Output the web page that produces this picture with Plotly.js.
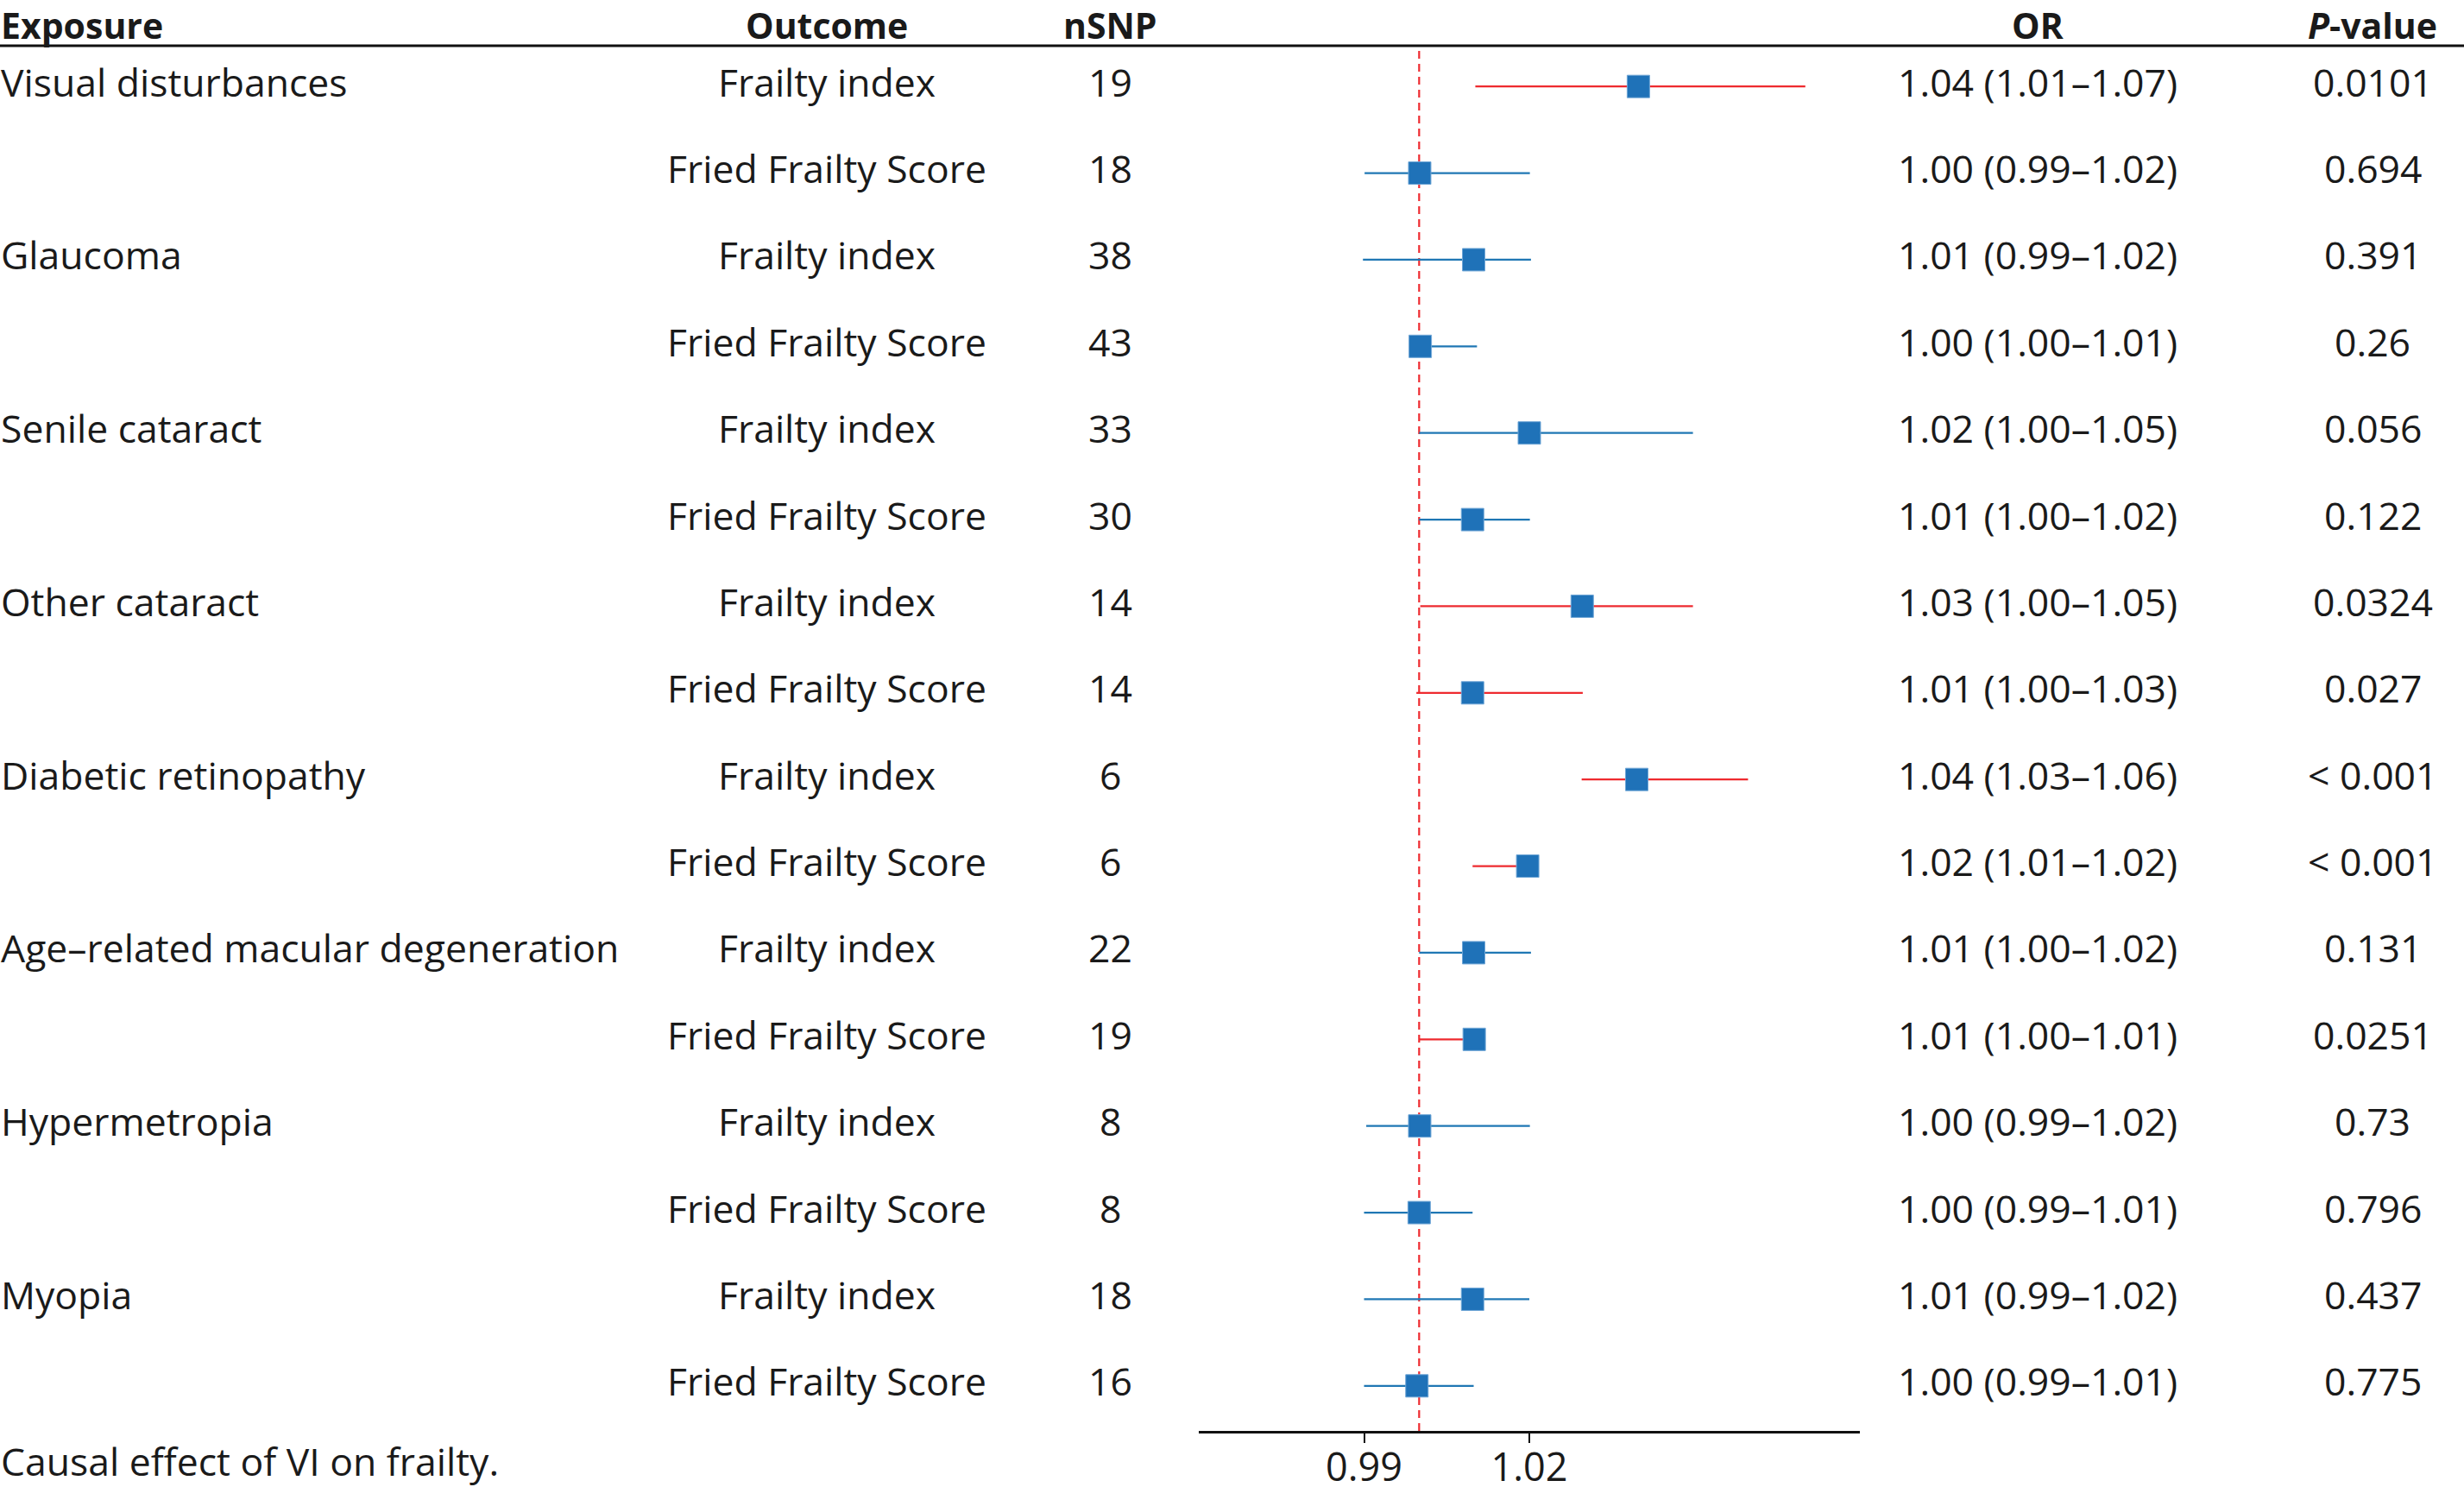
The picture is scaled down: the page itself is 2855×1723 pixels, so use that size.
<!DOCTYPE html>
<html>
<head>
<meta charset="utf-8">
<script src="https://cdn.plot.ly/plotly-3.0.1.min.js"></script>
<style>html,body{margin:0;padding:0;background:#fff;}</style>
</head>
<body>
<div id="chart" style="width:2855px;height:1723px;"></div>
<script>
// ---- data ----
const exposures = ["Visual disturbances", "", "Glaucoma", "", "Senile cataract", "", "Other cataract", "",
  "Diabetic retinopathy", "", "Age\u2013related macular degeneration", "", "Hypermetropia", "", "Myopia", ""];
const outcomes = ["Frailty index", "Fried Frailty Score", "Frailty index", "Fried Frailty Score",
  "Frailty index", "Fried Frailty Score", "Frailty index", "Fried Frailty Score",
  "Frailty index", "Fried Frailty Score", "Frailty index", "Fried Frailty Score",
  "Frailty index", "Fried Frailty Score", "Frailty index", "Fried Frailty Score"];
const nSNP = [19, 18, 38, 43, 33, 30, 14, 14, 6, 6, 22, 19, 8, 8, 18, 16];
const orValue = [1.0398, 1.0001, 1.0099, 1.0002, 1.0200, 1.0097, 1.0296, 1.0097,
  1.0395, 1.0197, 1.0099, 1.0100, 1.0001, 1.0000, 1.0097, 0.9996];
const ciLow = [1.0102, 0.9901, 0.9898, 0.9995, 1.0000, 1.0000, 1.0002, 0.9995,
  1.0295, 1.0097, 1.0000, 1.0000, 0.9904, 0.9900, 0.9900, 0.9900];
const ciHigh = [1.0701, 1.0201, 1.0203, 1.0105, 1.0497, 1.0201, 1.0497, 1.0297,
  1.0597, 1.0210, 1.0203, 1.0115, 1.0201, 1.0097, 1.0200, 1.0099];
const orText = ["1.04 (1.01\u20131.07)", "1.00 (0.99\u20131.02)", "1.01 (0.99\u20131.02)", "1.00 (1.00\u20131.01)",
  "1.02 (1.00\u20131.05)", "1.01 (1.00\u20131.02)", "1.03 (1.00\u20131.05)", "1.01 (1.00\u20131.03)",
  "1.04 (1.03\u20131.06)", "1.02 (1.01\u20131.02)", "1.01 (1.00\u20131.02)", "1.01 (1.00\u20131.01)",
  "1.00 (0.99\u20131.02)", "1.00 (0.99\u20131.01)", "1.01 (0.99\u20131.02)", "1.00 (0.99\u20131.01)"];
const pText = ["0.0101", "0.694", "0.391", "0.26", "0.056", "0.122", "0.0324", "0.027",
  "< 0.001", "< 0.001", "0.131", "0.0251", "0.73", "0.796", "0.437", "0.775"];
const headers = ["Exposure", "Outcome", "nSNP", "OR", "<i>P</i>-value"];
const tickVals = [0.99, 1.02];
const tickLabels = ["0.99", "1.02"];
const caption = "Causal effect of VI on frailty.";

// ---- style ----
const FONT = "Open Sans";
const FS = 44.5;
const HFS = 41;
const TXT = "#1a1a1a";
const BLUE = "#1f77b4";
const RED = "#ee2a2f";
const SQUARE = "#1f72b8";

const rows = outcomes.map((_, i) => i);
const isSig = pText.map(p => p.trim().startsWith("<") || parseFloat(p) < 0.05);

function ciLines(flag) {
  const x = [], y = [];
  rows.forEach(i => {
    if (isSig[i] === flag) { x.push(ciLow[i], ciHigh[i], null); y.push(i, i, null); }
  });
  return {x, y};
}
const sigL = ciLines(true), nsL = ciLines(false);

const traces = [
  {type: "scatter", mode: "lines", x: nsL.x, y: nsL.y, line: {color: BLUE, width: 2.2},
   hoverinfo: "skip", showlegend: false, cliponaxis: false},
  {type: "scatter", mode: "lines", x: sigL.x, y: sigL.y, line: {color: RED, width: 2.2},
   hoverinfo: "skip", showlegend: false, cliponaxis: false},
  {type: "scatter", mode: "markers", x: orValue, y: rows,
   marker: {symbol: "square", size: 26, color: SQUARE, line: {color: "#6fa6d6", width: 1}},
   showlegend: false, cliponaxis: false}
];

const W = 2855, H = 1723;
const colOutcome = 958 / W, colN = 1286 / W, colOR = 2361 / W, colP = 2749 / W;

const ann = [];
const hfont = {family: FONT, size: HFS, color: TXT};
function head(x, anchor, txt) {
  ann.push({xref: "paper", yref: "paper", x: x, y: 1, xanchor: anchor, yanchor: "top",
    text: "<b>" + txt + "</b>", showarrow: false, font: hfont, borderpad: 0});
}
head(0, "left", headers[0]);
head(colOutcome, "center", headers[1]);
head(colN, "center", headers[2]);
head(colOR, "center", headers[3]);
head(colP, "center", headers[4]);

const rfont = {family: FONT, size: FS, color: TXT};
function cell(x, anchor, i, txt) {
  ann.push({xref: "paper", yref: "y", x: x, y: i, xanchor: anchor, yanchor: "middle",
    text: txt, showarrow: false, font: rfont, borderpad: 0, yshift: 6});
}
rows.forEach(i => {
  if (exposures[i]) cell(0, "left", i, exposures[i]);
  cell(colOutcome, "center", i, outcomes[i]);
  cell(colN, "center", i, String(nSNP[i]));
  cell(colOR, "center", i, orText[i]);
  cell(colP, "center", i, pText[i]);
});
ann.push({xref: "paper", yref: "paper", x: 0, y: 1 - 1692 / H, xanchor: "left", yanchor: "middle",
  text: caption, showarrow: false, font: rfont, borderpad: 0});

const yTop = 1 - 50 / H, yBot = 1 - 1658 / H;

const layout = {
  width: W, height: H,
  margin: {l: 0, r: 0, t: 0, b: 0, pad: 0},
  paper_bgcolor: "#fff", plot_bgcolor: "#fff",
  showlegend: false,
  font: {family: FONT, size: FS, color: TXT},
  xaxis: {
    domain: [1389 / W, 2155 / W], range: [0.96, 1.08],
    showgrid: false, zeroline: false, showline: true, linecolor: "#111", linewidth: 2.5,
    ticks: "outside", ticklen: 11, tickwidth: 2, tickcolor: "#111",
    tickvals: tickVals, ticktext: tickLabels, ticklabelstandoff: -10,
    tickfont: {family: FONT, size: 45, color: TXT}, fixedrange: true
  },
  yaxis: {
    domain: [yBot, yTop], range: [15.52, -0.5],
    visible: false, showgrid: false, zeroline: false, fixedrange: true
  },
  shapes: [
    {type: "line", xref: "paper", yref: "paper", x0: 0, x1: 1, y0: 1 - 53 / H, y1: 1 - 53 / H, line: {color: "#111", width: 3}},
    {type: "line", xref: "x", yref: "paper", x0: 1, x1: 1, y0: yBot, y1: 1 - 56 / H, line: {color: RED, width: 2.2, dash: "9px,6px"}, layer: "below"}
  ],
  annotations: ann
};

Plotly.newPlot("chart", traces, layout, {staticPlot: true, displayModeBar: false});
</script>
</body>
</html>
